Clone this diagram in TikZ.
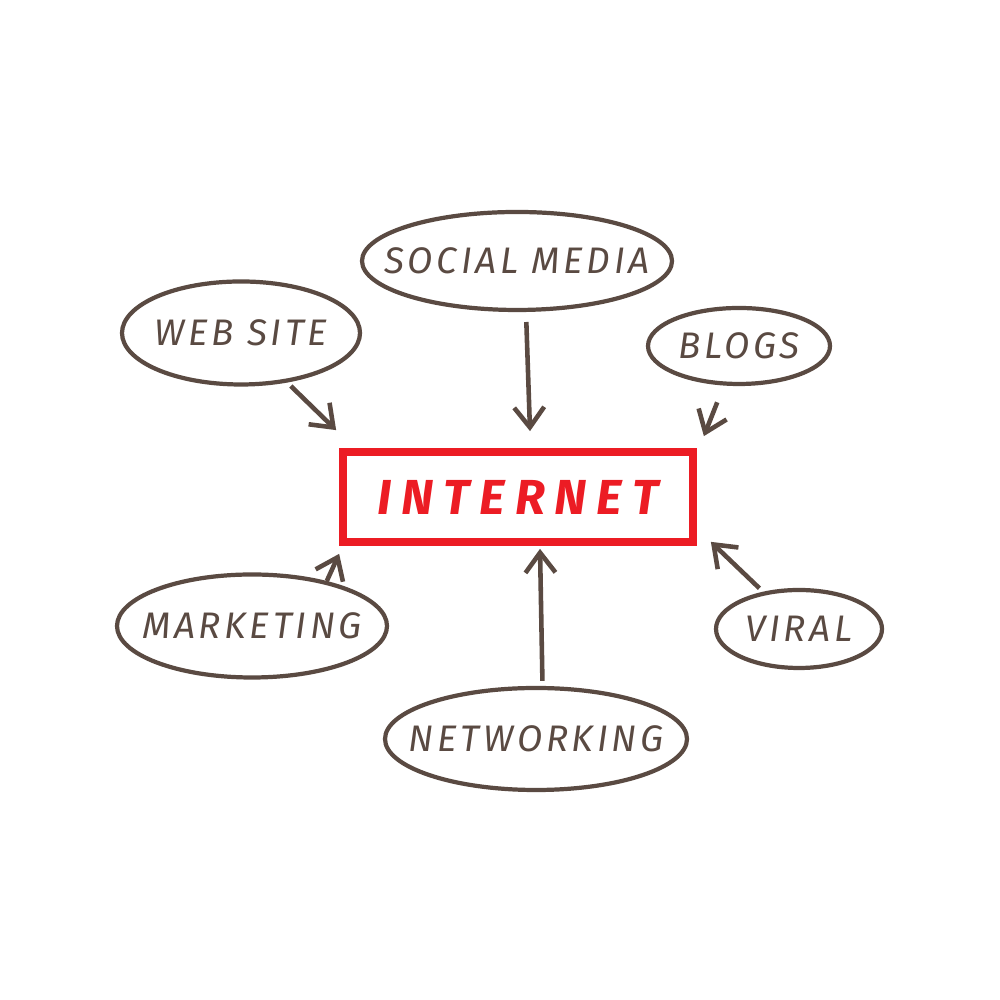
\documentclass[tikz,border=0pt]{standalone}
\usepackage{fontspec}
\setmainfont{Fira Sans}
\usetikzlibrary{shapes.geometric,arrows.meta}
\definecolor{brun}{HTML}{5A4A42}
\definecolor{rouge}{HTML}{EC1C24}
\newcommand{\etiq}[1]{\makebox[0pt]{#1}}
\begin{document}
\begin{tikzpicture}[
    bulle/.style={ellipse, draw=brun, line width=1.2pt, inner sep=0pt, text=brun,
      font=\fontsize{10.5}{12}\selectfont\itshape\addfontfeature{LetterSpace=10}},
    fleche/.style={draw=brun, line width=1.3pt, -{Straight Barb[length=2mm,width=3mm]}}
  ]
    \useasboundingbox[fill=white] (0,0) rectangle (10,10);

    %cadre central
    \node[draw=rouge, line width=2.2pt, minimum width=3.5cm, minimum height=0.9cm, text=rouge,
      font=\fontsize{14}{16}\selectfont\bfseries\itshape\addfontfeature{LetterSpace=20}]
      (internet) at (5.18,5.03) {INTERNET};

    %bulles
    \node[bulle, minimum width=3.10cm, minimum height=0.98cm] (social) at (5.17,7.39) {\etiq{SOCIAL MEDIA}};
    \node[bulle, minimum width=2.38cm, minimum height=1.03cm] (web) at (2.41,6.67) {\etiq{WEB SITE}};
    \node[bulle, minimum width=1.82cm, minimum height=0.76cm] (blogs) at (7.39,6.54) {\etiq{BLOGS}};
    \node[bulle, minimum width=2.70cm, minimum height=1.03cm] (marketing) at (2.52,3.74) {\etiq{MARKETING}};
    \node[bulle, minimum width=1.66cm, minimum height=0.78cm] (viral) at (7.99,3.71) {\etiq{VIRAL}};
    \node[bulle, minimum width=3.02cm, minimum height=1.02cm] (networking) at (5.36,2.61) {\etiq{NETWORKING}};

    %fleches
    \draw[fleche, shorten <=0.5mm] (web.-47) -- ([shift={(-0.03,0.18)}]internet.north west);
    \draw[fleche, shorten <=1mm] (social.-80) -- ([shift={(0.12,0.17)}]internet.north);
    \draw[fleche, shorten <=1.8mm] (blogs.-111) -- ([shift={(0.07,0.12)}]internet.north east);
    \draw[fleche] (marketing.31) -- ([shift={(0,-0.08)}]internet.south west);
    \draw[fleche, shorten <=0.5mm] (networking.83) -- ([shift={(0.22,-0.03)}]internet.south);
    \draw[fleche, shorten <=0.5mm] (viral.134) -- ([shift={(0.14,0.04)}]internet.south east);
\end{tikzpicture}
\end{document}
